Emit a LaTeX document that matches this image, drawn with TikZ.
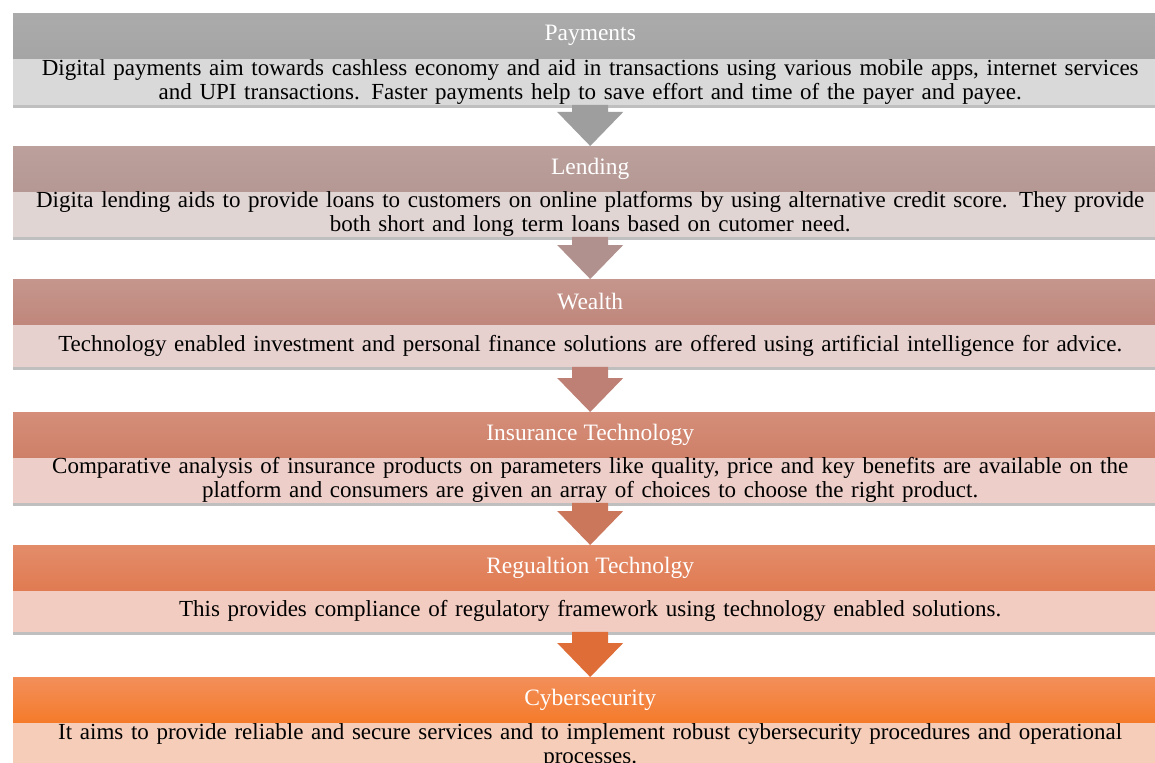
\documentclass[tikz,border=0pt]{standalone}
\usepackage{fontspec}
\setmainfont{Liberation Serif}
\usetikzlibrary{positioning,calc,shadows}

% header, band and arrow colours
\definecolor{hdPayT}{HTML}{ABABAB}
\definecolor{hdPayB}{HTML}{A5A5A5}
\definecolor{bdPay}{HTML}{D9D9D9}
\definecolor{arPay}{HTML}{9E9E9E}
\definecolor{hdLendT}{HTML}{BBA09C}
\definecolor{hdLendB}{HTML}{B59894}
\definecolor{bdLend}{HTML}{E1D5D4}
\definecolor{arLend}{HTML}{B1918D}
\definecolor{hdWealthT}{HTML}{C5968D}
\definecolor{hdWealthB}{HTML}{C0877C}
\definecolor{bdWealth}{HTML}{E6D1CF}
\definecolor{arWealth}{HTML}{BE8074}
\definecolor{hdInsT}{HTML}{D48E79}
\definecolor{hdInsB}{HTML}{CF8068}
\definecolor{bdIns}{HTML}{EDCEC8}
\definecolor{arIns}{HTML}{CB775C}
\definecolor{hdRegT}{HTML}{E38C6A}
\definecolor{hdRegB}{HTML}{E07B52}
\definecolor{bdReg}{HTML}{F2CCC0}
\definecolor{arReg}{HTML}{DE6D38}
\definecolor{hdCyberT}{HTML}{F28F5A}
\definecolor{hdCyberB}{HTML}{F57B2B}
\definecolor{bdCyber}{HTML}{F5CDB9}

\tikzset{
  softshadow/.style={drop shadow={shadow xshift=0pt, shadow yshift=-3pt, opacity=0.25, fill=black}},
  head/.style={minimum width=1154pt, minimum height=45pt, inner sep=0pt, text=white,
    font=\fontsize{23.5}{24}\selectfont},
  band/.style={text width=1154pt, inner sep=0pt, align=center,
    font=\fontsize{23}{24}\selectfont, softshadow},
}

% block arrow from one band down to the next header
\newcommand{\flowarrow}[3]{%
  \fill[#3] ($(#1.south)+(-18,0)$) -- ($(#1.south)+(18,0)$)
    -- ($(#2.north)+(18,-34)$) -- ($(#2.north)+(33,-34)$) -- (#2.north)
    -- ($(#2.north)+(-33,-34)$) -- ($(#2.north)+(-18,-34)$) -- cycle;}

\begin{document}
\begin{tikzpicture}[x=1pt, y=-1pt]
\useasboundingbox[fill=white] (0,0) rectangle (1155,762);

% Payments
\node[head, top color=hdPayT, bottom color=hdPayB, anchor=north west] (hPay) at (13,13) {Payments};
\node[band, fill=bdPay, minimum height=46pt, below=0pt of hPay] (bPay)
  {Digital payments aim towards cashless economy and aid in transactions using various mobile apps, internet services\\
   and UPI transactions. Faster payments help to save effort and time of the payer and payee.};

% Lending
\node[head, top color=hdLendT, bottom color=hdLendB, anchor=north west] (hLend) at (13,146) {Lending};
\node[band, fill=bdLend, minimum height=42pt, below=0pt of hLend] (bLend)
  {Digita lending aids to provide loans to customers on online platforms by using alternative credit score. They provide\\
   both short and long term loans based on cutomer need.};

% Wealth
\node[head, top color=hdWealthT, bottom color=hdWealthB, anchor=north west] (hWealth) at (13,279) {Wealth};
\node[band, fill=bdWealth, minimum height=42pt, below=0pt of hWealth] (bWealth)
  {Technology enabled investment and personal finance solutions are offered using artificial intelligence for advice.};

% Insurance
\node[head, top color=hdInsT, bottom color=hdInsB, anchor=north west] (hIns) at (13,412) {Insurance Technology};
\node[band, fill=bdIns, minimum height=41pt, below=0pt of hIns] (bIns)
  {Comparative analysis of insurance products on parameters like quality, price and key benefits are available on the\\
   platform and consumers are given an array of choices to choose the right product.};

% Regulation
\node[head, top color=hdRegT, bottom color=hdRegB, anchor=north west] (hReg) at (13,545) {Regualtion Technolgy};
\node[band, fill=bdReg, minimum height=41pt, below=0pt of hReg] (bReg)
  {This provides compliance of regulatory framework using technology enabled solutions.};

% Cybersecurity
\node[head, top color=hdCyberT, bottom color=hdCyberB, anchor=north west] (hCyber) at (13,677) {Cybersecurity};
\node[band, fill=bdCyber, minimum height=46pt, below=0pt of hCyber] (bCyber)
  {It aims to provide reliable and secure services and to implement robust cybersecurity procedures and operational\\
   processes.};

% arrows
\flowarrow{bPay}{hLend}{arPay}
\flowarrow{bLend}{hWealth}{arLend}
\flowarrow{bWealth}{hIns}{arWealth}
\flowarrow{bIns}{hReg}{arIns}
\flowarrow{bReg}{hCyber}{arReg}
\end{tikzpicture}
\end{document}
